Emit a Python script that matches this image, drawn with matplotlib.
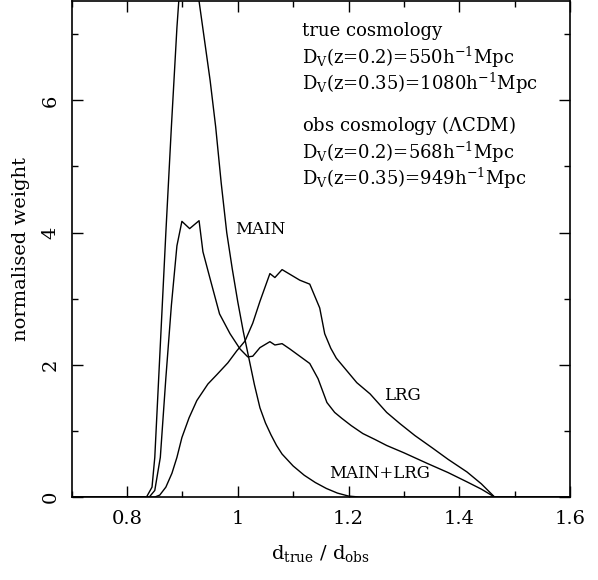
import matplotlib
matplotlib.use("Agg")
import matplotlib.pyplot as plt
from matplotlib.ticker import MultipleLocator

plt.rcParams['font.family'] = ['DejaVu Serif']
plt.rcParams['mathtext.fontset'] = 'dejavuserif'

# MAIN sample
main_x = [0.70, 0.835, 0.845, 0.85, 0.86, 0.87, 0.88, 0.89, 0.90, 0.91, 0.92, 0.93,
          0.94, 0.95, 0.96, 0.97, 0.98, 0.99, 1.00, 1.01, 1.02, 1.03, 1.04, 1.05,
          1.06, 1.07, 1.08, 1.10, 1.12, 1.14, 1.16, 1.18, 1.20, 1.22, 1.60]
main_y = [0.0, 0.0, 0.15, 0.6, 2.3, 4.0, 5.6, 7.1, 8.3, 8.8, 8.6, 7.5,
          6.9, 6.3, 5.6, 4.75, 4.0, 3.45, 2.95, 2.5, 2.1, 1.7, 1.35, 1.12,
          0.94, 0.78, 0.65, 0.47, 0.33, 0.22, 0.13, 0.06, 0.015, 0.0, 0.0]

# MAIN+LRG sample
comb_x = [0.70, 0.84, 0.85, 0.86, 0.87, 0.88, 0.89, 0.899, 0.913, 0.930, 0.937,
          0.95, 0.967, 0.986, 1.004, 1.018, 1.027, 1.040, 1.058, 1.067, 1.080,
          1.094, 1.112, 1.130, 1.145, 1.161, 1.175, 1.188, 1.205, 1.226, 1.248,
          1.269, 1.30, 1.342, 1.38, 1.414, 1.44, 1.464, 1.60]
comb_y = [0.0, 0.0, 0.1, 0.6, 1.8, 2.9, 3.8, 4.17, 4.06, 4.18, 3.71,
          3.3, 2.77, 2.47, 2.24, 2.12, 2.13, 2.26, 2.35, 2.30, 2.32,
          2.24, 2.13, 2.02, 1.79, 1.43, 1.28, 1.19, 1.08, 0.96, 0.87,
          0.78, 0.67, 0.51, 0.37, 0.23, 0.12, 0.0, 0.0]

# LRG sample
lrg_x = [0.70, 0.85, 0.859, 0.87, 0.881, 0.89, 0.899, 0.912, 0.926, 0.946, 0.962,
         0.982, 0.998, 1.013, 1.027, 1.040, 1.058, 1.067, 1.080, 1.094, 1.112,
         1.130, 1.148, 1.157, 1.168, 1.178, 1.197, 1.215, 1.239, 1.269, 1.293,
         1.32, 1.352, 1.38, 1.414, 1.44, 1.464, 1.60]
lrg_y = [0.0, 0.0, 0.03, 0.15, 0.36, 0.6, 0.9, 1.2, 1.46, 1.71, 1.85,
         2.03, 2.21, 2.36, 2.63, 2.96, 3.38, 3.32, 3.44, 3.37, 3.28,
         3.22, 2.86, 2.47, 2.25, 2.1, 1.91, 1.73, 1.56, 1.28, 1.11,
         0.93, 0.74, 0.57, 0.38, 0.2, 0.0, 0.0]

fig = plt.figure(figsize=(5.98, 5.80), dpi=100)
ax = fig.add_axes([0.120, 0.143, 0.833, 0.855])

lw = 1.0
ax.plot(main_x, main_y, color='black', lw=lw)
ax.plot(comb_x, comb_y, color='black', lw=lw)
ax.plot(lrg_x, lrg_y, color='black', lw=lw)

ax.set_xlim(0.7, 1.6)
ax.set_ylim(0, 7.5)
ax.xaxis.set_major_locator(MultipleLocator(0.2))
ax.xaxis.set_minor_locator(MultipleLocator(0.1))
ax.yaxis.set_major_locator(MultipleLocator(2))
ax.yaxis.set_minor_locator(MultipleLocator(1))
ax.tick_params(which='both', direction='in', top=True, right=True, width=1.0)
ax.tick_params(which='major', length=8)
ax.tick_params(which='minor', length=4)
ax.tick_params(axis='both', labelsize=14, pad=9)
ax.tick_params(axis='y', labelrotation=90)
for lab in ax.get_yticklabels():
    lab.set_verticalalignment('center')

ax.xaxis.set_major_formatter(plt.FuncFormatter(lambda v, p: f"{v:g}"))
ax.yaxis.set_major_formatter(plt.FuncFormatter(lambda v, p: f"{v:g}"))

for s in ax.spines.values():
    s.set_linewidth(1.2)

ax.set_xlabel(r'd$_{\rm true}$ / d$_{\rm obs}$', fontsize=14, labelpad=11)
ax.set_ylabel('normalised weight', fontsize=14, labelpad=8)

ax.text(0.996, 4.05, 'MAIN', fontsize=12, va='center', ha='left')
ax.text(1.264, 1.53, 'LRG', fontsize=12, va='center', ha='left')
ax.text(1.165, 0.36, 'MAIN+LRG', fontsize=12, va='center', ha='left')

lines = ['true cosmology',
         r'D$_{\rm V}$(z=0.2)=550h$^{-1}$Mpc',
         r'D$_{\rm V}$(z=0.35)=1080h$^{-1}$Mpc',
         '',
         r'obs cosmology ($\Lambda$CDM)',
         r'D$_{\rm V}$(z=0.2)=568h$^{-1}$Mpc',
         r'D$_{\rm V}$(z=0.35)=949h$^{-1}$Mpc']
ypos = [30, 56, 82, None, 125, 152, 178]
for t, yp in zip(lines, ypos):
    if yp is None:
        continue
    ax.text(0.462, 1 - yp / 497.0, t, transform=ax.transAxes, fontsize=13,
            va='center', ha='left')

fig.savefig('out.png', dpi=100)
